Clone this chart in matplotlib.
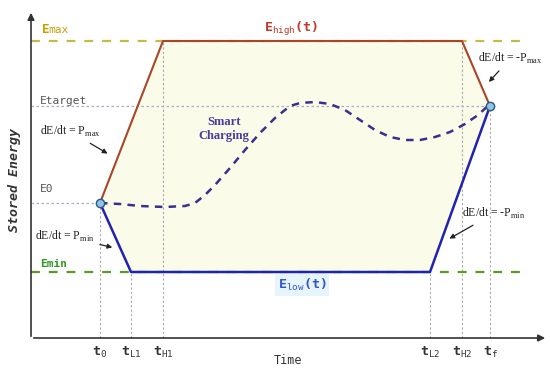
import numpy as np
import matplotlib.pyplot as plt

plt.rcParams['mathtext.fontset'] = 'custom'
plt.rcParams['mathtext.rm'] = 'Liberation Serif'
plt.rcParams['mathtext.tt'] = 'DejaVu Sans Mono'

# Energy levels (arbitrary units, axis origin = 0)
e_min, e_0, e_target, e_max = 68, 137, 234, 299
# Time instants
t_names = [r't$_{\mathtt{0}}$', r't$_{\mathtt{L1}}$', r't$_{\mathtt{H1}}$',
           r't$_{\mathtt{L2}}$', r't$_{\mathtt{H2}}$', r't$_{\mathtt{f}}$']
t_vals = [69, 100, 132, 399, 431, 459]
t0, tL1, tH1, tL2, tH2, tf = t_vals

# Upper / lower bounds of the energy envelope
high_t = [t0, tH1, tH2, tf]
high_e = [e_0, e_max, e_max, e_target]
low_t = [t0, tL1, tL2, tf]
low_e = [e_0, e_min, e_min, e_target]

# Smart charging trajectory
smart_t = [69, 89, 109, 134, 154, 164, 174, 184, 199, 214, 229, 244, 254,
           259, 269, 284, 299, 314, 329, 344, 359, 374, 389, 404, 419, 434, 447, 459]
smart_e = [137, 136, 134, 133, 134, 137, 145, 155, 172, 190, 207, 222, 230,
           234, 237, 238, 236, 230, 220, 210, 203, 200, 200, 203, 208, 216, 225, 236]

fig = plt.figure(figsize=(5.5, 3.69), dpi=100)
ax = fig.add_axes([0, 0, 1, 1])
ax.set_xlim(-31, 519)
ax.set_ylim(-29, 340)
ax.axis('off')

mono = 'DejaVu Sans Mono'
serif = 'Liberation Serif'

# axes arrows
ax.annotate('', xy=(0, 330), xytext=(0, 1), arrowprops=dict(arrowstyle='-|>', color='#333333', lw=1.2, mutation_scale=10))
ax.annotate('', xy=(517, 2), xytext=(0, 2), arrowprops=dict(arrowstyle='-|>', color='#333333', lw=1.2, mutation_scale=10))

# fill region
env_t = np.array(sorted(set(high_t + low_t)))
ax.fill_between(env_t, np.interp(env_t, low_t, low_e), np.interp(env_t, high_t, high_e),
                color='#fafbe9', zorder=0)

# guide lines
ax.plot([0, 495], [e_max, e_max], ls=(0, (4, 4)), color='#c8b84a', lw=1.6)
ax.plot([0, 495], [e_min, e_min], ls=(0, (4, 4)), color='#5a9a28', lw=1.6)
ax.plot([0, tf], [e_target, e_target], ls=(0, (2, 2)), color='#a8acc8', lw=0.9)
ax.plot([0, t0], [e_0, e_0], ls=(0, (2, 2)), color='#a8acc8', lw=0.9)
tops = [e_0, e_min, e_max, e_min, e_max, e_target]
for tv, top in zip(t_vals, tops):
    ax.plot([tv, tv], [2, top], ls=(0, (2, 2)), color='#aaaaaa', lw=0.8, zorder=1)

ax.plot(high_t, high_e, color='#a8452a', lw=1.5, zorder=3)
ax.plot(low_t, low_e, color='#2222b0', lw=1.8, zorder=3)
ax.plot(smart_t, smart_e, ls=(0, (3, 2.5)), color='#3a2f8c', lw=1.8, zorder=3)
ax.plot([t0, tf], [e_0, e_target], 'o', ms=6, mfc='#8fc2e8', mec='#2a5a80', mew=1, zorder=4)

# labels
ax.text(11, 307, 'E', color='#c8a000', fontsize=9, fontweight='bold', family=mono)
ax.text(17.5, 307, 'max', color='#c8a000', fontsize=8, family=mono)
ax.text(9, 236, 'Etarget', color='#555555', fontsize=8, family=mono)
ax.text(9, 148, 'E0', color='#555555', fontsize=8, family=mono)
ax.text(9, 73, 'Emin', color='#2a9a20', fontsize=8, fontweight='bold', family=mono)
ax.text(233, 308, r'E$_{\mathtt{high}}$(t)', color='#c0392b', fontsize=9.5, fontweight='bold', family=mono)
ax.text(247, 51, r'E$_{\mathtt{low}}$(t)', color='#3355cc', fontsize=9.5, fontweight='bold', family=mono,
        bbox=dict(boxstyle='square,pad=0.2', fc='#e6f5fb', ec='none'))
ax.text(193, 211, 'Smart\nCharging', color='#4a3a9a', fontsize=9, fontweight='bold', family=serif,
        ha='center', va='center', linespacing=1.2)

ax.text(-16, 160, 'Stored Energy', rotation=90, ha='center', va='center', fontsize=9.5,
        fontweight='bold', fontstyle='italic', family=mono, color='#333333')
ax.text(257, -20, 'Time', ha='center', va='center', fontsize=8.5, family=mono, color='#333333')
for name, tv in zip(t_names, t_vals):
    ax.text(tv, -12, name, ha='center', va='center', fontsize=9.5, fontweight='bold', family=mono, color='#333333')

# slope annotations
arr = dict(arrowstyle='-|>', color='#222222', lw=0.9, mutation_scale=7)
ax.annotate(r'dE/dt = P$_{\mathrm{max}}$', xy=(79, 185), xytext=(9, 205), fontsize=8.5, family=serif,
            color='#222222', arrowprops=arr)
ax.annotate(r'dE/dt = P$_{\mathrm{min}}$', xy=(84, 92), xytext=(4, 100), fontsize=8.5, family=serif,
            color='#222222', arrowprops=arr)
ax.annotate(r'dE/dt = -P$_{\mathrm{max}}$', xy=(456, 256), xytext=(447, 278), fontsize=8.5, family=serif,
            color='#222222', arrowprops=arr)
ax.annotate(r'dE/dt = -P$_{\mathrm{min}}$', xy=(416, 100), xytext=(431, 123), fontsize=8.5, family=serif,
            color='#222222', arrowprops=arr)

fig.savefig('out.png', dpi=100)
